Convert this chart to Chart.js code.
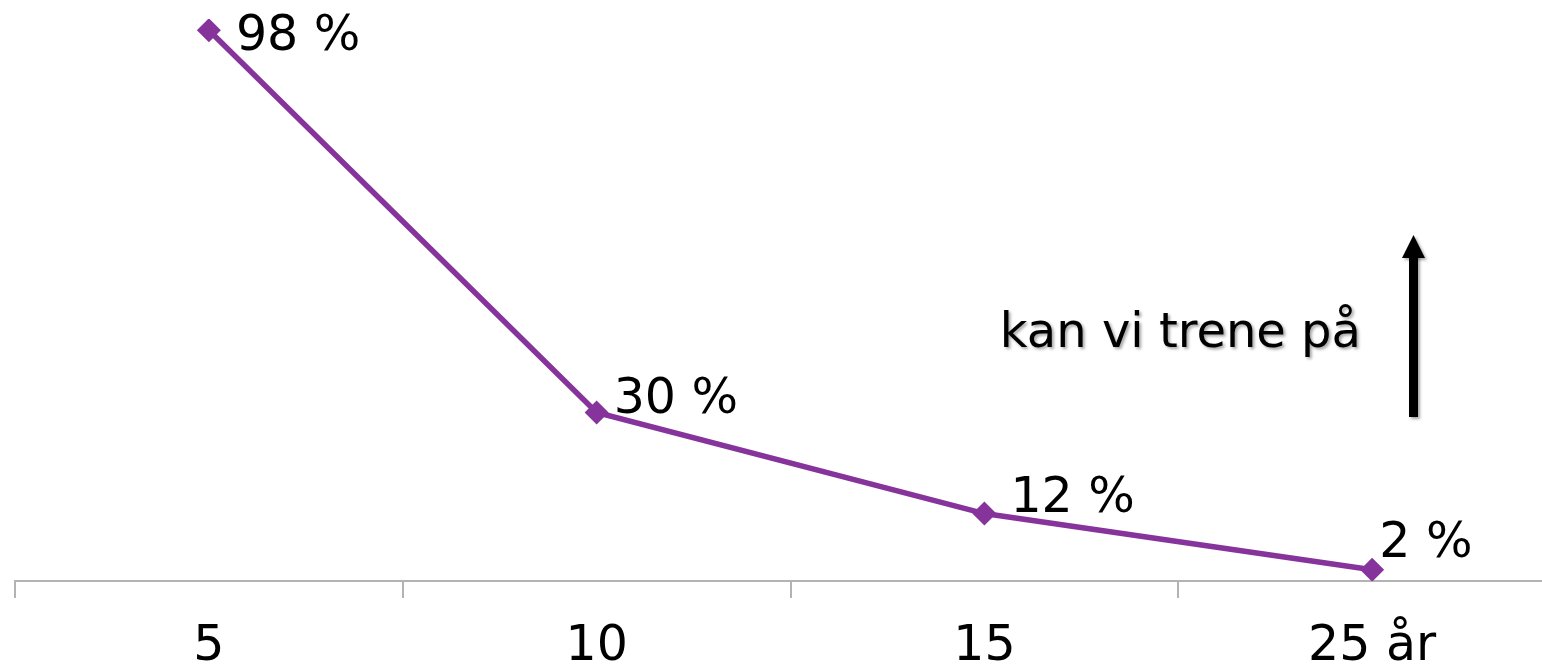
<!DOCTYPE html>
<html>
<head>
<meta charset="utf-8">
<script src="https://cdn.jsdelivr.net/npm/chart.js@4.4.1/dist/chart.umd.min.js"></script>
<style>
    html, body { margin: 0; padding: 0; background: #fff; overflow: hidden; }
    #wrap { width: 1542px; height: 666px; overflow: hidden; }
</style>
</head>
<body>
<div id="wrap"><canvas id="chart" width="1578" height="666"></canvas></div>
<script>
var categories = ['5', '10', '15', '25 år'];
var values = [98, 30, 12, 2];
var valueLabels = ['98 %', '30 %', '12 %', '2 %'];
var noteText = 'kan vi trene på';

var purple = '#86349c';
var font = 'DejaVu Sans, Verdana, sans-serif';

// labels right of each point (offsets)
var labelPlugin = {
    id: 'valueLabels',
    afterDatasetsDraw: function (chart) {
        var ctx = chart.ctx;
        var pts = chart.getDatasetMeta(0).data;
        var dx = [27, 17, 26, 7];
        var dy = [20, 1, -2, -13];
        ctx.save();
        ctx.font = '49px ' + font;
        ctx.fillStyle = '#000';
        ctx.textAlign = 'left';
        ctx.textBaseline = 'alphabetic';
        pts.forEach(function (p, i) {
            ctx.fillText(valueLabels[i], p.x + dx[i], p.y + dy[i]);
        });
        ctx.restore();
    }
};

// "kan vi trene på" with the up arrow
var notePlugin = {
    id: 'note',
    afterDraw: function (chart) {
        var ctx = chart.ctx;
        ctx.save();
        ctx.shadowColor = 'rgba(0,0,0,0.35)';
        ctx.shadowBlur = 3;
        ctx.shadowOffsetX = 2;
        ctx.shadowOffsetY = 2;
        ctx.font = '48px ' + font;
        ctx.fillStyle = '#000';
        ctx.textAlign = 'right';
        ctx.fillText(noteText, 1361, 347);

        ctx.fillRect(1409, 255, 9, 162);
        ctx.beginPath();
        ctx.moveTo(1413.5, 235);
        ctx.lineTo(1425, 258);
        ctx.lineTo(1402, 258);
        ctx.closePath();
        ctx.fill();
        ctx.restore();
    }
};

new Chart(document.getElementById('chart').getContext('2d'), {
    type: 'line',
    data: {
        labels: categories,
        datasets: [{
            data: values,
            borderColor: purple,
            backgroundColor: purple,
            borderWidth: 5.5,
            pointStyle: 'rectRot',
            pointRadius: 12,
            pointBorderWidth: 0,
            fill: false,
            tension: 0
        }]
    },
    options: {
        responsive: false,
        animation: false,
        layout: { padding: { left: 15, right: 3, top: 19, bottom: 0 } },
        plugins: {
            legend: { display: false },
            tooltip: { enabled: false }
        },
        scales: {
            x: {
                offset: true,
                afterFit: function (axis) { axis.height = 85; },
                grid: {
                    offset: true,
                    drawOnChartArea: false,
                    drawTicks: true,
                    tickLength: 17,
                    color: '#b3b3b3',
                    lineWidth: 2
                },
                border: { display: true, color: '#b3b3b3', width: 2 },
                ticks: {
                    color: '#000',
                    padding: 20,
                    font: { family: font, size: 49 },
                    maxRotation: 0,
                    autoSkip: false
                }
            },
            y: {
                display: false,
                min: 0,
                max: 100
            }
        }
    },
    plugins: [labelPlugin, notePlugin]
});
</script>
</body>
</html>
